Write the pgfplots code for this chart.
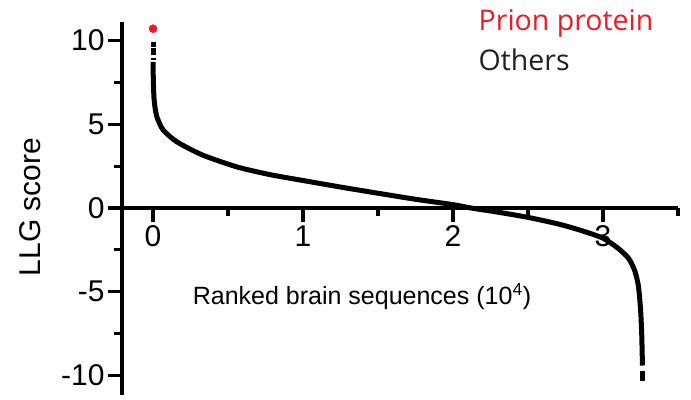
\documentclass[border=0pt]{standalone}
\usepackage{pgfplots}
\pgfplotsset{compat=1.18}
\usepackage{fontspec}
\setmainfont{Liberation Sans}
\newfontfamily\legendfont{Open Sans}
\definecolor{prionred}{HTML}{ED1C24}
\definecolor{inkblack}{HTML}{231F20}

\begin{document}
\begin{tikzpicture}
\begin{axis}[
  at={(0,0)}, anchor=south west,
  scale only axis, width=556bp, height=373bp,
  xmin=-0.207, xmax=3.5, ymin=-11.16, ymax=11.1,
  axis y line*=left, axis x line*=middle,
  axis line style={line width=3.2bp, black},
  every inner x axis line/.append style={line width=3.2bp},
  every outer y axis line/.append style={line width=3.2bp},
  tick style={line width=3.2bp, black},
  hide obscured x ticks=false, hide obscured y ticks=false,
  xtick={0,1,2,3}, xticklabels={0,1,2,3},
  minor xtick={0.5,1.5,2.5,3.5},
  ytick={-10,-5,0,5,10}, yticklabels={-10,-5,0,5,10},
  minor ytick={-7.5,-2.5,2.5,7.5},
  tick align=outside,
  major tick length=14bp, minor tick length=8bp,
  tick label style={font=\fontsize{30bp}{34bp}\selectfont},
  clip=false,
  ylabel={LLG score},
  ylabel style={font=\fontsize{30bp}{34bp}\selectfont, at={(axis cs:-0.82,0.05)}, anchor=center},
]
% heavy axis strokes and tick marks
\draw[black, line width=3.2bp, line cap=butt] (axis cs:-0.207,-11.16) -- (axis cs:-0.207,11.1);
\pgfplotsinvokeforeach{-10,-5,0,5,10}{
  \draw[black, line width=3.2bp, line cap=butt] (axis cs:-0.207,#1) -- ++(-14bp,0pt);
}
\pgfplotsinvokeforeach{-7.5,-2.5,2.5,7.5}{
  \draw[black, line width=3.2bp, line cap=butt] (axis cs:-0.207,#1) -- ++(-8bp,0pt);
}
\pgfplotsinvokeforeach{0,1,2,3}{
  \draw[black, line width=3.2bp, line cap=butt] (axis cs:#1,0) -- ++(0pt,-14bp);
}
\pgfplotsinvokeforeach{0.5,1.5,2.5,3.5}{
  \draw[black, line width=3.2bp, line cap=butt] (axis cs:#1,0) -- ++(0pt,-8bp);
}
% ranked LLG scores of all other brain sequences
\addplot[black, line width=5bp, smooth, tension=0.4, line cap=butt] coordinates {
  (0,8.72) (0.002,7.6) (0.006,6.6) (0.014,5.95) (0.027,5.4) (0.067,4.66)
  (0.16,3.94) (0.33,3.16) (0.56,2.45) (0.78,1.99) (1.0,1.64) (1.25,1.25)
  (1.5,0.88) (1.75,0.52) (2.0,0.2) (2.12,0.0) (2.3,-0.25) (2.5,-0.56)
  (2.7,-0.95) (2.85,-1.33) (3.0,-1.8) (3.1,-2.4) (3.17,-3.0) (3.21,-3.7)
  (3.235,-4.6) (3.25,-6.0) (3.258,-7.5) (3.263,-9.4)
};
% sparse extremes at both ends
\addplot[black, line width=5bp, line cap=butt] coordinates {(0,9.93) (0,9.63)};
\addplot[black, line width=5bp, line cap=butt] coordinates {(0,9.53) (0,9.13)};
\addplot[black, line width=5bp, line cap=butt] coordinates {(0,8.98) (0,8.82)};
\addplot[black, line width=5bp, line cap=butt] coordinates {(3.265,-9.7) (3.265,-10.3)};
% prion protein
\addplot[only marks, mark=*, mark size=4bp, line width=0.5bp, color=prionred] coordinates {(0,10.7)};
\node[font=\fontsize{25bp}{30bp}\selectfont, anchor=center] at (axis cs:1.393,-5.31) {Ranked brain sequences (10\textsuperscript{4})};
\node[font=\legendfont\fontsize{28.5bp}{32bp}\selectfont, text=prionred, anchor=west, inner sep=0pt] at (axis cs:2.17,11.0) {Prion protein};
\node[font=\legendfont\fontsize{28.5bp}{32bp}\selectfont, text=inkblack, anchor=west, inner sep=0pt] at (axis cs:2.17,8.85) {Others};
\end{axis}
\pgfresetboundingbox
\path[use as bounding box] (-122bp,-5bp) rectangle (569bp,395bp);
\end{tikzpicture}
\end{document}
